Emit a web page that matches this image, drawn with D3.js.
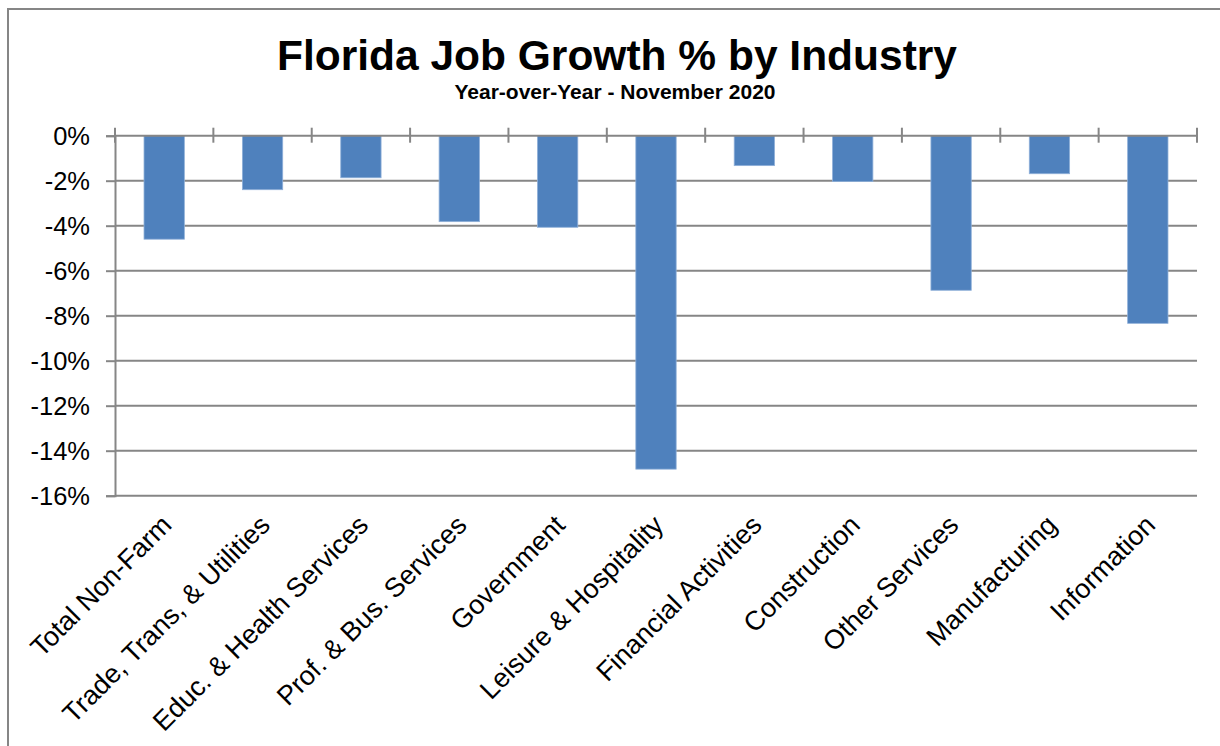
<!DOCTYPE html>
<html>
<head>
<meta charset="utf-8">
<script src="https://cdn.jsdelivr.net/npm/d3@7"></script>
<style>
  html, body { margin: 0; padding: 0; background: #fff; }
  svg { display: block; font-family: "Liberation Sans", Arial, sans-serif; }
</style>
</head>
<body>
<svg id="chart" width="1220" height="746"></svg>
<script>
const categories = [
  "Total Non-Farm",
  "Trade, Trans, & Utilities",
  "Educ. & Health Services",
  "Prof. & Bus. Services",
  "Government",
  "Leisure & Hospitality",
  "Financial Activities",
  "Construction",
  "Other Services",
  "Manufacturing",
  "Information"
];
const growth = [-4.6, -2.4, -1.87, -3.82, -4.07, -14.82, -1.33, -2.04, -6.87, -1.69, -8.34];
const yTicks = [0, -2, -4, -6, -8, -10, -12, -14, -16];
const titleText = "Florida Job Growth % by Industry";
const subtitleText = "Year-over-Year - November 2020";

const svg = d3.select("#chart");
const W = 1220, H = 746;
const plot = { left: 115, right: 1197, top: 135.7, bottom: 495.7 };
const gridColor = "#868686";
const barColor = "#4F81BD";

// outer border
svg.append("rect")
  .attr("x", 8).attr("y", 9)
  .attr("width", W + 20).attr("height", H + 20)
  .attr("fill", "none").attr("stroke", gridColor).attr("stroke-width", 2);

const x = d3.scaleBand()
  .domain(categories)
  .range([plot.left, plot.right])
  .paddingInner(0.59)
  .paddingOuter(0.295);

const y = d3.scaleLinear()
  .domain([0, -16])
  .range([plot.top, plot.bottom]);

// gridlines
svg.append("g")
  .selectAll("line")
  .data(yTicks.filter(d => d !== 0))
  .join("line")
  .attr("x1", plot.left).attr("x2", plot.right)
  .attr("y1", d => y(d)).attr("y2", d => y(d))
  .attr("stroke", gridColor).attr("stroke-width", 2);

// y axis
const yAxis = d3.axisLeft(y)
  .tickValues(yTicks)
  .tickSize(9)
  .tickPadding(16)
  .tickFormat(d => d + "%");
const gy = svg.append("g")
  .attr("transform", `translate(${plot.left},0)`)
  .call(yAxis);
gy.select(".domain").attr("stroke", gridColor).attr("stroke-width", 2);
gy.selectAll(".tick line").attr("stroke", gridColor).attr("stroke-width", 2);
gy.selectAll(".tick text")
  .attr("fill", "#000")
  .attr("dy", "0.36em")
  .style("font-size", "25.5px")
  .style("font-family", "'Liberation Sans', Arial, sans-serif");

// bars
svg.append("g")
  .selectAll("rect")
  .data(categories.map((c, i) => ({ c, v: growth[i] })))
  .join("rect")
  .attr("x", d => x(d.c))
  .attr("width", x.bandwidth())
  .attr("y", y(0))
  .attr("height", d => y(d.v) - y(0))
  .attr("fill", barColor)
  .attr("stroke", "#8fb0d9")
  .attr("stroke-width", 0.8);

// zero axis line with category boundary ticks
svg.append("line")
  .attr("x1", plot.left).attr("x2", plot.right)
  .attr("y1", y(0)).attr("y2", y(0))
  .attr("stroke", gridColor).attr("stroke-width", 2);

const step = x.step();
const boundaries = d3.range(categories.length + 1).map(i => plot.left + i * step);
svg.append("g")
  .selectAll("line")
  .data(boundaries)
  .join("line")
  .attr("x1", d => d).attr("x2", d => d)
  .attr("y1", y(0) - 8).attr("y2", y(0) + 7)
  .attr("stroke", gridColor).attr("stroke-width", 2);

// category labels
svg.append("g")
  .selectAll("text")
  .data(categories)
  .join("text")
  .attr("transform", d => `translate(${x(d) + x.bandwidth() / 2 + 9},${plot.bottom + 31}) rotate(-45)`)
  .attr("text-anchor", "end")
  .style("font-size", "27px")
  .attr("fill", "#000")
  .text(d => d);

// titles
svg.append("text")
  .attr("x", 617).attr("y", 70)
  .attr("text-anchor", "middle")
  .style("font-size", "42.5px")
  .style("font-weight", "bold")
  .text(titleText);

svg.append("text")
  .attr("x", 615).attr("y", 99)
  .attr("text-anchor", "middle")
  .style("font-size", "21px")
  .style("font-weight", "bold")
  .text(subtitleText);
</script>
</body>
</html>
